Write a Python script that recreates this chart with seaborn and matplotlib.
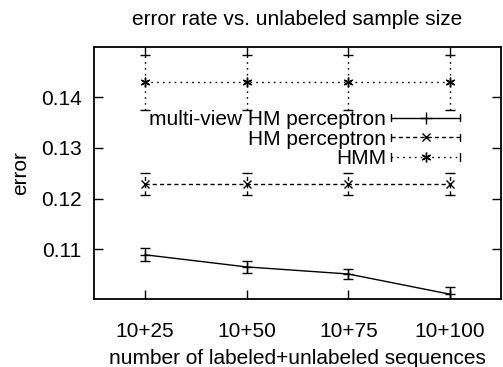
import numpy as np
import pandas as pd
import seaborn as sns
import matplotlib
matplotlib.use("Agg")
import matplotlib.pyplot as plt
from matplotlib.lines import Line2D
from matplotlib.legend_handler import HandlerBase

categories = ["10+25", "10+50", "10+75", "10+100"]
multiview = [0.1089, 0.1065, 0.1051, 0.1011]
multiview_err = [0.0013, 0.0012, 0.0010, 0.0014]
hm_perc = [0.1229, 0.1229, 0.1229, 0.1229]
hm_perc_err = [0.0022, 0.0022, 0.0022, 0.0022]
hmm = [0.1430, 0.1430, 0.1430, 0.1430]
hmm_err = [0.0054, 0.0054, 0.0054, 0.0054]
series_names = ["multi-view HM perceptron", "HM perceptron", "HMM"]
yticks = [0.11, 0.12, 0.13, 0.14]

sns.set_theme(style="white")
plt.rcParams['font.family'] = ['Liberation Sans', 'DejaVu Sans']
FS = 15

df = pd.DataFrame({
    "pos": list(range(len(categories))) * 3,
    "y": multiview + hm_perc + hmm,
    "err": multiview_err + hm_perc_err + hmm_err,
    "method": sum([[n] * len(categories) for n in series_names], []),
})

styles = {
    "multi-view HM perceptron": dict(dashes=None, marker="+", ms=7, lms=9),
    "HM perceptron": dict(dashes=(3.0, 2.2), marker="x", ms=6, lms=6),
    "HMM": dict(dashes=(1.2, 3.0), marker=(6, 2, 0), ms=7, lms=7),
}

fig = plt.figure(figsize=(5.03, 3.67), dpi=100)
ax = fig.add_axes([94 / 503, 1 - 299.3 / 367, (501 - 94) / 503, (299.3 - 47.3) / 367])

for n in series_names:
    st = styles[n]
    sub = df[df.method == n]
    ls = "-" if st["dashes"] is None else (0, st["dashes"])
    sns.lineplot(data=sub, x="pos", y="y", color="black", linewidth=1.0,
                 linestyle=ls, marker=st["marker"], markersize=st["ms"],
                 markeredgecolor="black", markeredgewidth=1.0,
                 errorbar=None, legend=False, ax=ax)
    eb = ax.errorbar(sub["pos"], sub["y"], yerr=sub["err"], fmt="none",
                     ecolor="black", elinewidth=1.0, capsize=3.6, capthick=1.0)
    if st["dashes"] is not None:
        for lc in eb[2]:
            lc.set_linestyle((0, st["dashes"]))

ax.set_xlim(-0.5, len(categories) - 0.5)
ax.set_ylim(0.1001, 0.1499)
ax.set_xticks(range(len(categories)))
ax.set_xticklabels(categories)
ax.set_yticks(yticks)
ax.set_yticklabels([f"{t:.2f}" for t in yticks])
ax.tick_params(direction="in", length=6.5, width=1.0, top=True, right=True,
               labelsize=FS, colors="black", bottom=True, left=True)
ax.tick_params(axis="x", pad=16)
ax.tick_params(axis="y", pad=9)
for s in ax.spines.values():
    s.set_visible(True)
    s.set_color("black")
    s.set_linewidth(1.3)

ax.set_xlabel("number of labeled+unlabeled sequences", fontsize=FS, labelpad=6, color="black")
ax.set_ylabel("error", fontsize=FS, labelpad=8, color="black")
ax.set_title("error rate vs. unlabeled sample size", fontsize=FS, pad=16, color="black")


class ErrHandler(HandlerBase):
    def create_artists(self, legend, orig_handle, xdescent, ydescent, width,
                       height, fontsize, trans):
        y = height / 2 - ydescent
        x0, x1 = -xdescent, width - xdescent
        line = Line2D([x0, x1], [y, y], color="black", lw=1.0)
        dash = orig_handle.get_gid()
        if dash:
            line.set_linestyle((0, dash))
        h = 2.6
        cap1 = Line2D([x0, x0], [y - h, y + h], color="black", lw=1.0)
        cap2 = Line2D([x1, x1], [y - h, y + h], color="black", lw=1.0)
        mk = Line2D([(x0 + x1) / 2], [y], color="black", lw=0,
                    marker=orig_handle.get_marker(), ms=orig_handle.get_markersize(),
                    mew=1.0, mec="black")
        arts = [line, cap1, cap2, mk]
        for a in arts:
            a.set_transform(trans)
        return arts


handles = []
for n in series_names:
    st = styles[n]
    h = Line2D([], [], color="black", lw=1.0, marker=st["marker"], ms=st["lms"])
    h.set_gid(st["dashes"])
    handles.append(h)

leg = ax.legend(handles, series_names, loc="upper right",
                bbox_to_anchor=((460 - 94) / 407, (299.3 - 110) / 252),
                markerfirst=False, frameon=False, fontsize=FS,
                handlelength=3.3, handletextpad=0.25, labelspacing=0.03,
                borderaxespad=0, borderpad=0,
                handler_map={Line2D: ErrHandler()})
for t in leg.get_texts():
    t.set_ha("right")
    t.set_color("black")
leg._legend_box.align = "right"

fig.savefig("out.png", dpi=100)
